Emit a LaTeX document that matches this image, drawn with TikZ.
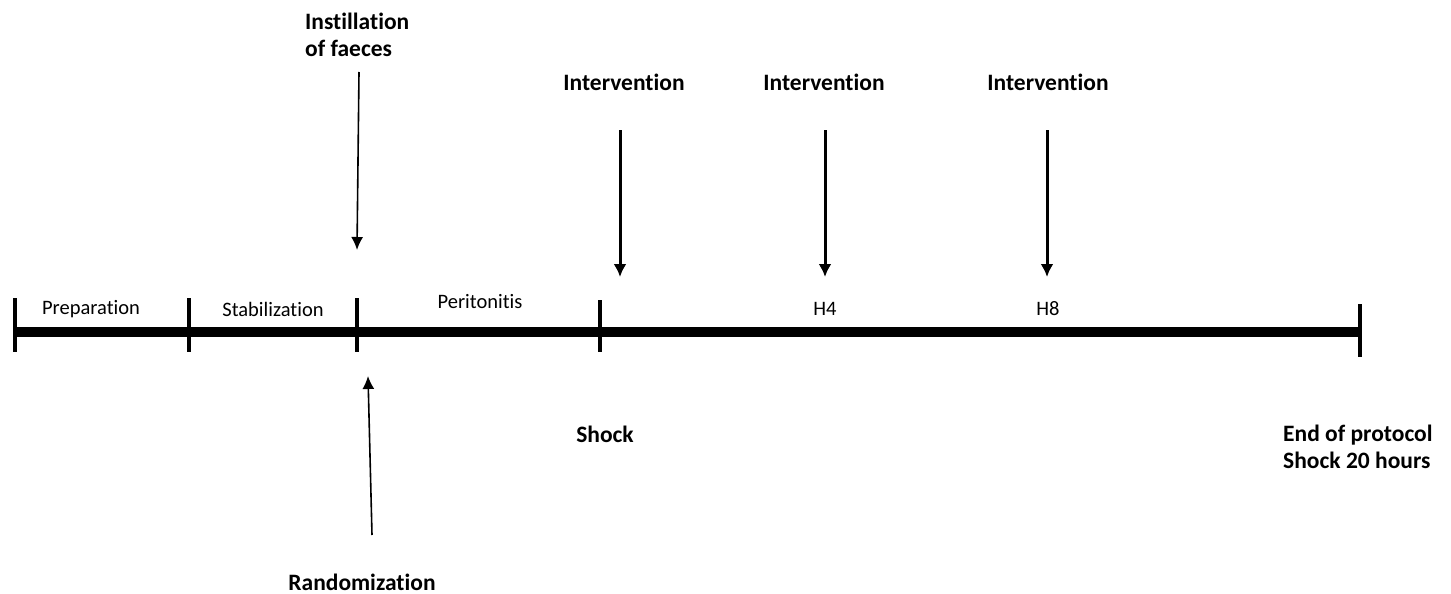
\documentclass[tikz,border=0pt]{standalone}
\usepackage{fontspec}
\setmainfont{Carlito}[RawFeature=-liga]
\usetikzlibrary{arrows.meta}
\begin{document}
\begin{tikzpicture}[x=1pt,y=-1pt,
  lbl/.style={font=\fontsize{23.5}{27}\selectfont\bfseries, inner sep=0pt},
  seg/.style={font=\fontsize{20.5}{24}\selectfont, inner sep=0pt},
  tick/.style={line width=4pt},
  thinarrow/.style={line width=1.6pt, -{Latex[length=13pt,width=12pt]}},
  thickarrow/.style={line width=3pt, -{Latex[length=13pt,width=13pt]}}]
\useasboundingbox (0,0) rectangle (1451,594);
% timeline
\coordinate (t0) at (15,332);
\coordinate (t1) at (189,332);
\coordinate (t2) at (357,332);
\coordinate (t3) at (600,332);
\coordinate (t4) at (1360,332);
\draw[line width=10pt] (t0) -- (t4);
\draw[tick] (15,298) -- (15,352);
\draw[tick] (189,298) -- (189,352);
\draw[tick] (357,298) -- (357,352);
\draw[tick] (600,300) -- (600,352);
\draw[tick] (1360,304) -- (1360,357);
% segment labels
\node[seg] (prep) at (91,309) {Preparation};
\node[seg] (stab) at (273,309) {Stabilization};
\node[seg] (peri) at (480,302) {Peritonitis};
\node[seg] (h4) at (825,309) {H4};
\node[seg] (h8) at (1048,309) {H8};
% top labels and arrows
\node[lbl, align=left, anchor=west] (inst) at (305,35) {Instillation\\of faeces};
\coordinate (instA) at (359,72);
\coordinate (instB) at (357,250);
\draw[thinarrow] (instA) -- (instB);
\node[lbl] (iv1) at (624,82) {Intervention};
\node[lbl] (iv2) at (824,82) {Intervention};
\node[lbl] (iv3) at (1048,82) {Intervention};
\coordinate (a1s) at (620,130); \coordinate (a1e) at (620,277);
\coordinate (a2s) at (825,130); \coordinate (a2e) at (825,277);
\coordinate (a3s) at (1047,130); \coordinate (a3e) at (1047,277);
\draw[thickarrow] (a1s) -- (a1e);
\draw[thickarrow] (a2s) -- (a2e);
\draw[thickarrow] (a3s) -- (a3e);
% bottom labels
\coordinate (rndA) at (372,535);
\coordinate (rndB) at (368,376);
\draw[thinarrow] (rndA) -- (rndB);
\node[lbl, anchor=base] (rnd) at (362,590) {Randomization};
\node[lbl] (shock) at (605,434) {Shock};
\node[lbl, align=left, anchor=west] (end) at (1283,447) {End of protocol\\Shock 20 hours};
\end{tikzpicture}
\end{document}
